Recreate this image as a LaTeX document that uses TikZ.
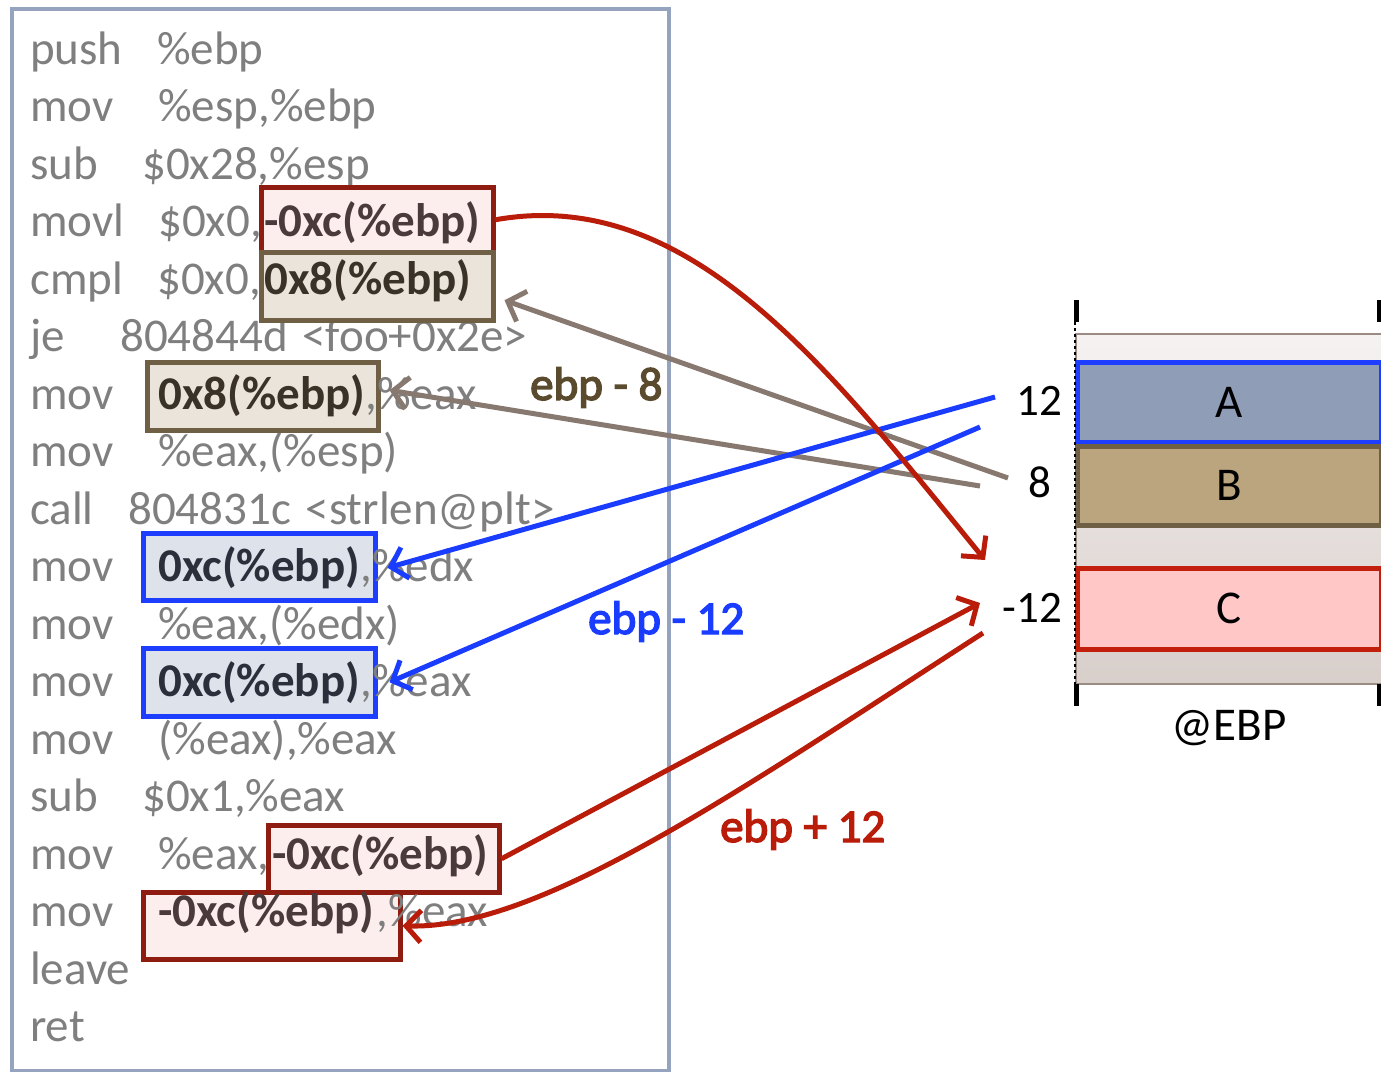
\documentclass[tikz,border=0pt]{standalone}
\usepackage{fontspec}
\setmainfont{Carlito}
\newfontfamily\lblfont[FakeBold=3]{Carlito}
\usetikzlibrary{arrows.meta,calc}

\definecolor{asmgray}{HTML}{7F7F7F}
\definecolor{framec}{HTML}{95A3BF}
\definecolor{redline}{HTML}{8E1C10}
\definecolor{redfill}{HTML}{FDEEEE}
\definecolor{redtxt}{HTML}{4B3A3B}
\definecolor{brnline}{HTML}{6E5F45}
\definecolor{brnfill}{HTML}{EBE4DB}
\definecolor{brntxt}{HTML}{3A3127}
\definecolor{bluline}{HTML}{1E3EFF}
\definecolor{blufill}{HTML}{DEE2EA}
\definecolor{blutxt}{HTML}{2B2F3B}
\definecolor{arrred}{HTML}{BA1C0A}
\definecolor{arrgry}{HTML}{877870}
\definecolor{arrblu}{HTML}{1A3CFF}
\definecolor{lblbrn}{HTML}{5B4B2E}
\definecolor{Afill}{HTML}{8F9DB7}
\definecolor{Bfill}{HTML}{BBA57F}
\definecolor{Cfill}{HTML}{FFC8C6}
\definecolor{Cline}{HTML}{C2200C}
\definecolor{stktop}{HTML}{F5F2F1}
\definecolor{stkbot}{HTML}{D8CFCB}
\definecolor{stkedge}{HTML}{9A8C84}

\begin{document}
\begin{tikzpicture}[x=1pt,y=-1pt,
  big/.style={font=\fontsize{47}{56}\selectfont},
  asm/.style={big,anchor=base west,inner sep=0pt,text=asmgray},
  hl/.style={anchor=base west,inner sep=0pt,font=\fontsize{47}{56}\selectfont\bfseries},
  opbox/.style={anchor=north west,line width=4.5pt,inner sep=0pt,draw},
  redbox/.style={opbox,draw=redline,fill=redfill},
  brnbox/.style={opbox,draw=brnline,fill=brnfill},
  blubox/.style={opbox,draw=bluline,fill=blufill},
  cell/.style={anchor=north west,line width=4.5pt,inner sep=0pt,minimum width=304,
    font=\fontsize{47}{56}\selectfont,text=black},
  link/.style={line width=5pt,-{Straight Barb[length=15pt,width=32pt]}},
  offs/.style={font=\fontsize{45}{54}\selectfont,anchor=base east,inner sep=0pt},
  note/.style={font=\fontsize{47}{56}\selectfont,anchor=base west,inner sep=0pt},
  formula/.style={font=\fontsize{47}{56}\lblfont,anchor=base west,inner sep=0pt},
]
\useasboundingbox (0,0) rectangle (1381,1071);
\fill[white] (0,0) rectangle (1381,1071);

% listing frame
\node[anchor=north west,draw=framec,line width=3.5pt,minimum width=657,minimum height=1062,inner sep=0pt] (code) at (10,7) {};

% mnemonics and plain operands
\node[asm] (m1) at (30,64) {push};   \node[asm] (o1) at (157,64) {\%ebp};
\node[asm] (m2) at (30,121.5) {mov}; \node[asm] (o2) at (158,121.5) {\%esp,\%ebp};
\node[asm] (m3) at (30,179) {sub};   \node[asm] (o3) at (142,179) {\$0x28,\%esp};
\node[asm] (m4) at (30,236.5) {movl};\node[asm] (o4) at (158,236.5) {\$0x0,};
\node[asm] (m5) at (30,294) {cmpl};  \node[asm] (o5) at (157,294) {\$0x0,};
\node[asm] (m6) at (30,351.5) {je};  \node[asm] (o6) at (120,351.5) {804844d\hspace{4pt} <foo+0x2e>};
\node[asm] (m7) at (30,409) {mov};
\node[asm] (m8) at (30,466.5) {mov}; \node[asm] (o8) at (158,466.5) {\%eax,(\%esp)};
\node[asm] (m9) at (30,524) {call};  \node[asm] (o9) at (128,524) {804831c\hspace{4pt} <strlen@plt>};
\node[asm] (m10) at (30,581.5) {mov};
\node[asm] (m11) at (30,639) {mov};  \node[asm] (o11) at (158,639) {\%eax,(\%edx)};
\node[asm] (m12) at (30,696.5) {mov};
\node[asm] (m13) at (30,754) {mov};  \node[asm] (o13) at (158,754) {(\%eax),\%eax};
\node[asm] (m14) at (30,811.5) {sub};\node[asm] (o14) at (142,811.5) {\$0x1,\%eax};
\node[asm] (m15) at (30,869) {mov};  \node[asm] (o15) at (158,869) {\%eax,};
\node[asm] (m16) at (30,926.5) {mov};
\node[asm] (m17) at (30,984) {leave};
\node[asm] (m18) at (30,1041.5) {ret};

% highlighted operand boxes
\node[redbox,minimum width=232,minimum height=65] (b4) at (259,185) {};
\node[brnbox,minimum width=232,minimum height=68] (b5) at (259,250) {};
\node[brnbox,minimum width=231,minimum height=68] (b7) at (145,360) {};
\node[blubox,minimum width=232,minimum height=67] (b10) at (141,531) {};
\node[blubox,minimum width=232,minimum height=68] (b12) at (141,646) {};
\node[redbox,minimum width=231,minimum height=67] (b15) at (266,823) {};
\node[redbox,minimum width=257,minimum height=67] (b16) at (141,890) {};

% highlighted operand texts
\node[hl,text=redtxt] (t4) at (264,236.5) {-0xc(\%ebp)};
\node[hl,text=brntxt] (t5) at (264,294) {0x8(\%ebp)};
\node[hl,text=brntxt] (t7) at (158,409) {0x8(\%ebp)};
\node[asm] (r7) at (t7.base east) {,\%eax};
\node[hl,text=blutxt] (t10) at (158,581.5) {0xc(\%ebp)};
\node[asm] (r10) at (t10.base east) {,\%edx};
\node[hl,text=blutxt] (t12) at (158,696.5) {0xc(\%ebp)};
\node[asm] (r12) at (t12.base east) {,\%eax};
\node[hl,text=redtxt] (t15) at (272,869) {-0xc(\%ebp)};
\node[hl,text=redtxt] (t16) at (158,926.5) {-0xc(\%ebp)};
\node[asm] (r16) at ($(t16.base east)+(2,0)$) {,\%eax};

% stack frame around EBP
\node[anchor=north west,minimum width=306,minimum height=350,inner sep=0pt,
      top color=stktop,bottom color=stkbot,draw=stkedge,line width=1.5pt] (stack) at (1075,333) {};
\node[cell,fill=Afill,draw=bluline,minimum height=80] (A) at (1075,360) {A};
\node[cell,fill=Bfill,draw=brnline,minimum height=79] (B) at (1075,444) {B};
\node[cell,fill=Cfill,draw=Cline,minimum height=81] (C) at (1075,566) {C};
\draw[line width=1.5pt,dashed] (1075,322) -- (1075,685);
\draw[line width=5pt] (1076,300) -- (1076,322) (1076,684) -- (1076,706);
\draw[line width=5pt] (1379,300) -- (1379,322) (1379,684) -- (1379,706);
\node[note,anchor=base] (ebp) at (1229,740) {@EBP};

% offsets
\node[offs] (o12) at (1062,415) {12};
\node[offs] (o8) at (1051,497) {8};
\node[offs] (om12) at (1062,622) {-12};

% free ends of the connectors next to the offsets
\coordinate (a12) at (995,397);
\coordinate (b12s) at (980,427);
\coordinate (g8a) at (1008,478);
\coordinate (g8b) at (980,486);
\coordinate (rin) at (985,560);
\coordinate (rin2) at (980,603);
\coordinate (rout) at (983,633);

% connectors
\draw[link,arrgry] (g8a) -- ($(b5.east)+(9,14)$);
\draw[link,arrgry] (g8b) -- ($(b7.east)+(9,-6)$);
\draw[link,arrblu] (a12) -- ($(b10.east)+(10,1)$);
\draw[link,arrblu] (b12s) -- ($(b12.east)+(12,0)$);
\draw[link,arrred] (b4.east) .. controls (690,185) and (830,370) .. (rin);
\draw[link,arrred] (b15.east) -- (rin2);
\draw[link,arrred] (rout) .. controls (740,790) and (540,930) .. (b16.east);

% offset formulas
\node[formula,text=lblbrn] (lb8) at (530,400) {ebp - 8};
\node[formula,text=arrblu] (lb12) at (588,634) {ebp - 12};
\node[formula,text=arrred] (lbp12) at (720,842) {ebp + 12};
\end{tikzpicture}
\end{document}
